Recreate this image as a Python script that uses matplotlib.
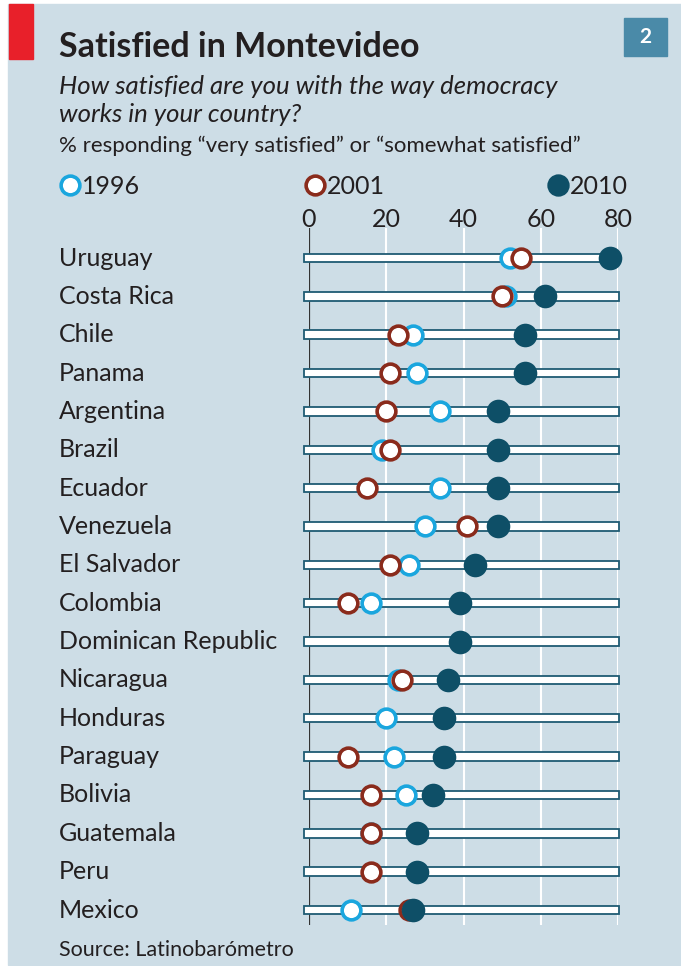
import matplotlib.pyplot as plt
from matplotlib.patches import Rectangle
from matplotlib.transforms import blended_transform_factory

plt.rcParams['font.family'] = ['Lato', 'DejaVu Sans']

countries = ["Uruguay", "Costa Rica", "Chile", "Panama", "Argentina", "Brazil",
             "Ecuador", "Venezuela", "El Salvador", "Colombia", "Dominican Republic",
             "Nicaragua", "Honduras", "Paraguay", "Bolivia", "Guatemala", "Peru", "Mexico"]
# None where no survey value is shown
y1996 = [52, 51, 27, 28, 34, 19, 34, 30, 26, 16, None, 23, 20, 22, 25, 16, 28, 11]
y2001 = [55, 50, 23, 21, 20, 21, 15, 41, 21, 10, None, 24, 35, 10, 16, 16, 16, 26]
y2010 = [78, 61, 56, 56, 49, 49, 49, 49, 43, 39, 39, 36, 35, 35, 32, 28, 28, 27]
ticks = [0, 20, 40, 60, 80]

bg = "#cddde6"
dark = "#0e4f67"
cyan = "#1aa6de"
red = "#8a2b1c"
outline = "#1f5b73"
txt = "#231f20"

W, H = 681, 966
fig = plt.figure(figsize=(W / 100, H / 100), dpi=100)
fig.patch.set_facecolor("white")

# overlay in pixel coordinates for the header, panel and labels
over = fig.add_axes([0, 0, 1, 1])
over.set_xlim(0, W)
over.set_ylim(H, 0)
over.axis("off")
over.add_patch(Rectangle((8, 4), W - 8, 961, color=bg, zorder=0))
over.add_patch(Rectangle((9, 4), 24, 55, color="#e8202a", zorder=1))
over.add_patch(Rectangle((624, 18), 43, 38, color="#4a8aa8", zorder=1))
over.text(645.5, 37, "2", color="white", fontsize=15, fontweight="bold",
          ha="center", va="center")

over.text(59, 47, "Satisfied in Montevideo", fontsize=24.5, fontweight="bold",
          color=txt, va="center")
over.text(59, 87, "How satisfied are you with the way democracy", fontsize=18.5,
          style="italic", color=txt, va="center")
over.text(59, 115, "works in your country?", fontsize=18.5,
          style="italic", color=txt, va="center")
over.text(59, 146, "% responding \u201cvery satisfied\u201d or \u201csomewhat satisfied\u201d",
          fontsize=16, color=txt, va="center")

legend = [("1996", cyan, "white", 70), ("2001", red, "white", 315), ("2010", dark, dark, 558)]
for label, ec, fc, lx in legend:
    over.plot([lx], [185], "o", ms=13.5, mfc=fc, mec=ec, mew=2.6)
    over.text(lx + 12, 186, label, fontsize=18, color=txt, va="center")

over.text(59, 950, "Source: Latinobarómetro", fontsize=15.5, color=txt, va="center")

# chart area: 0 -> x=309px, 80 -> x=618px; rows from 258px to 910px
top_px, bot_px = 228, 925
ax = fig.add_axes([309 / W, (H - bot_px) / H, (618 - 309) / W, (bot_px - top_px) / H])
ax.patch.set_alpha(0)
ax.set_xlim(0, 80)
step = (910 - 258) / 17
ax.set_ylim((bot_px - 258) / step, (top_px - 258) / step)
for s in ax.spines.values():
    s.set_visible(False)

ax.set_yticks([])
ax.xaxis.tick_top()
ax.set_xticks(ticks)
ax.set_xticklabels([str(t) for t in ticks], fontsize=18, color=txt)
ax.tick_params(axis="x", length=0, pad=-2)

for t in ticks[1:]:
    ax.axvline(t, color="white", lw=1.5, zorder=0)
ax.axvline(0, color="#333333", lw=1.6, zorder=1)

ypos = list(range(len(countries)))
ax.barh(ypos, 81.5, left=-1.2, height=0.22, color="white", edgecolor=outline,
        lw=1.3, zorder=2, clip_on=False)

pts96 = [(v, i) for i, v in enumerate(y1996) if v is not None]
pts01 = [(v, i) for i, v in enumerate(y2001) if v is not None]
ax.plot([p[0] for p in pts96], [p[1] for p in pts96], "o", ms=13.5, mfc="white",
        mec=cyan, mew=2.6, zorder=3, clip_on=False)
ax.plot([p[0] for p in pts01], [p[1] for p in pts01], "o", ms=13.5, mfc="white",
        mec=red, mew=2.6, zorder=4, clip_on=False)
ax.plot(y2010, ypos, "o", ms=17, color=dark, mew=0, zorder=5, clip_on=False)

lab = blended_transform_factory(fig.transFigure, ax.transData)
for i, c in enumerate(countries):
    ax.text(59 / W, i, c, transform=lab, fontsize=18, color=txt, va="center")

fig.savefig("out.png", dpi=100, facecolor=fig.get_facecolor())
